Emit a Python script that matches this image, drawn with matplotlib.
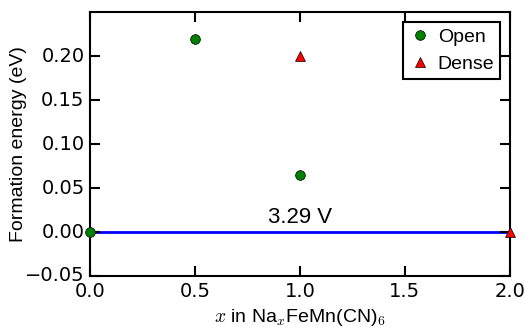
import matplotlib.pyplot as plt

# Data
open_x = [0.0, 0.5, 1.0]
open_y = [0.0, 0.22, 0.065]
dense_x = [1.0, 2.0]
dense_y = [0.20, 0.0]
hull_x = [0.0, 2.0]
hull_y = [0.0, 0.0]
voltage_label = "3.29 V"

plt.style.use("classic")
sans = "Liberation Sans"

fig = plt.figure(figsize=(5.24, 3.27), dpi=100, facecolor="white")
ax = fig.add_axes([0.172, 0.156, 0.801, 0.806])

ax.plot(hull_x, hull_y, color="blue", linewidth=2, zorder=2)
ax.plot(open_x, open_y, "o", color="green", markeredgecolor="black",
        markeredgewidth=0.5, markersize=7, label="Open", clip_on=False, zorder=3)
ax.plot(dense_x, dense_y, "^", color="red", markeredgecolor="black",
        markeredgewidth=0.5, markersize=7, label="Dense", clip_on=False, zorder=3)

ax.text(1.0, 0.005, voltage_label, ha="center", va="bottom",
        fontsize=16, family=sans)

ax.set_xlim(0, 2)
ax.set_ylim(-0.05, 0.25)
ax.set_xticks([0.0, 0.5, 1.0, 1.5, 2.0])
ax.set_yticks([-0.05, 0.0, 0.05, 0.10, 0.15, 0.20])
ax.tick_params(labelsize=14, width=1.5, length=7)
for s in ax.spines.values():
    s.set_linewidth(1.5)

ax.set_xlabel(r"$x$ in Na$_x$FeMn(CN)$_6$", fontsize=14, family=sans)
ax.set_ylabel("Formation energy (eV)", fontsize=14, family=sans)
ax.yaxis.set_label_coords(-0.15, 0.5)

leg = ax.legend(loc="upper right", numpoints=1, prop={"family": sans, "size": 14},
                handletextpad=0.3, borderpad=0.3, handlelength=1.2)
leg.get_frame().set_linewidth(1.5)

fig.savefig("out.png", dpi=100, facecolor="white")
